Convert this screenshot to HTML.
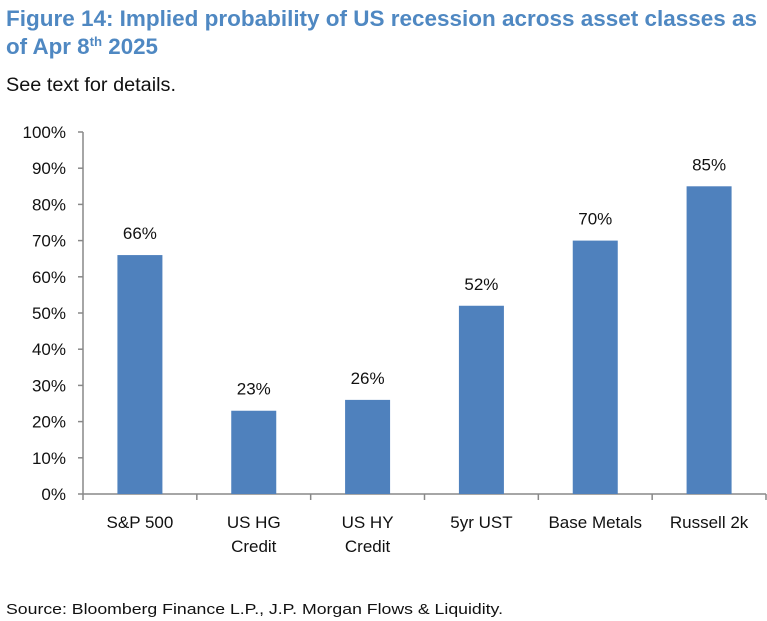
<!DOCTYPE html>
<html><head><meta charset="utf-8"><style>
html,body{margin:0;padding:0;background:#fff;}
svg{display:block;font-family:"Liberation Sans",Arial,sans-serif;}
</style></head><body>
<svg id="chart" width="767" height="621" viewBox="0 0 767 621">
<text x="6" y="26" font-size="22" font-weight="bold" fill="#4f88c2" textLength="751" lengthAdjust="spacingAndGlyphs">Figure 14: Implied probability of US recession across asset classes as</text>
<text x="6" y="54" font-size="22" font-weight="bold" fill="#4f88c2" textLength="152" lengthAdjust="spacingAndGlyphs">of Apr 8<tspan font-size="13" dy="-8">th</tspan><tspan dy="8"> 2025</tspan></text>
<text x="6" y="91" font-size="19" fill="#111" textLength="170" lengthAdjust="spacingAndGlyphs">See text for details.</text>
<g id="plot"></g>
<text x="6" y="614" font-size="15" fill="#111" textLength="497" lengthAdjust="spacingAndGlyphs">Source: Bloomberg Finance L.P., J.P. Morgan Flows &amp; Liquidity.</text>
</svg>
<script>
const categories = [["S&P 500"],["US HG","Credit"],["US HY","Credit"],["5yr UST"],["Base Metals"],["Russell 2k"]];
const values = [66, 23, 26, 52, 70, 85];
const yTicks = [0,10,20,30,40,50,60,70,80,90,100];

const NS = "http://www.w3.org/2000/svg";
const g = document.getElementById("plot");
const x0 = 83, x1 = 766, y0 = 494, yTop = 132;
const band = (x1 - x0) / categories.length;
const barW = 45;
const yScale = v => y0 - (v / 100) * (y0 - yTop);
const xCenter = i => x0 + band * (i + 0.5);
function mk(tag, attrs){ const e = document.createElementNS(NS, tag); for (const k in attrs) e.setAttribute(k, attrs[k]); g.appendChild(e); return e; }

const yAxis = mk("line", {x1:x0, y1:yTop, x2:x0, y2:y0, stroke:"#888", "stroke-width":1.5});


const xAxis = mk("line", {x1:x0, y1:y0, x2:x1, y2:y0, stroke:"#888", "stroke-width":1.5});



yTicks.forEach(t => {
  const y = yScale(t);
  const tk = mk("line", {x1:x0-5, y1:y, x2:x0, y2:y, stroke:"#888", "stroke-width":1.5});
  
  
  const lb = mk("text", {x:66, y:y+6, "font-size":17, "text-anchor":"end", fill:"#111"});
  lb.textContent = t + "%";
  
  
});

for (let i = 0; i <= categories.length; i++) {
  const x = x0 + band * i;
  const tk = mk("line", {x1:x, y1:y0, x2:x, y2:y0+6, stroke:"#888", "stroke-width":1.5});
  
  
}

values.forEach((v, i) => {
  const cx = xCenter(i);
  const top = yScale(v);
  const bar = mk("rect", {x:cx-barW/2, y:top, width:barW, height:y0-top, fill:"#4f81bd"});
  
  
  const vl = mk("text", {x:cx, y:top-16, "font-size":17, "text-anchor":"middle", fill:"#111"});
  vl.textContent = v + "%";
  
  
  categories[i].forEach((line, j) => {
    const cl = mk("text", {x:cx, y:528 + j*24, "font-size":17, "text-anchor":"middle", fill:"#111"});
    cl.textContent = line;
    
    
  });
});
</script>
</body></html>
